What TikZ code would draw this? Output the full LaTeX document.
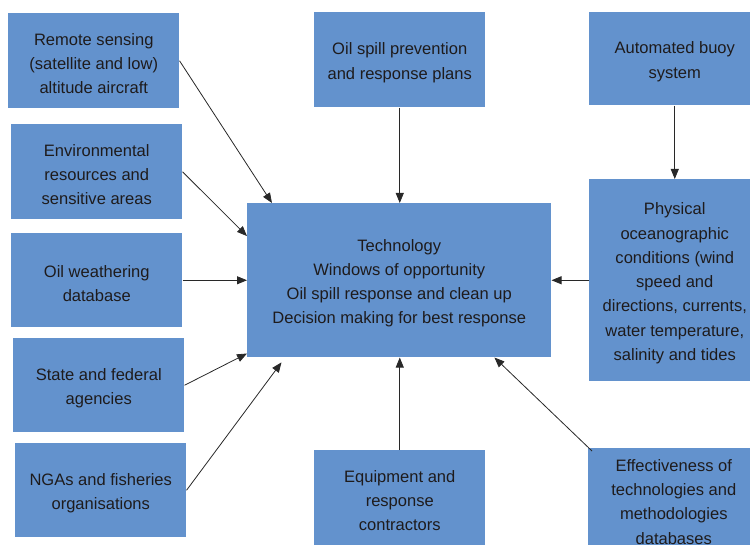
\documentclass[tikz,border=0pt]{standalone}
\usepackage{fontspec}
\setmainfont{Liberation Sans}
\usetikzlibrary{arrows.meta,calc}
\definecolor{boxblue}{RGB}{99,146,205}
\definecolor{txt}{RGB}{30,27,28}
\definecolor{arr}{RGB}{40,40,40}
\newcommand{\topstrut}{\rule{0pt}{13.5pt}}
\tikzset{
  box/.style={fill=boxblue, draw=none, align=center, text=txt,
    font=\fontsize{12.4}{18.2}\selectfont, inner sep=0pt, anchor=north west},
  sz/.style 2 args={minimum width=#1*0.75pt, minimum height=#2*0.75pt},
  arrow/.style={draw=arr, line width=0.6pt, -{Triangle[length=7.5pt,width=6pt]}}
}
\begin{document}
\begin{tikzpicture}[x=0.75pt,y=-0.75pt]
\useasboundingbox (0,0) rectangle (750,545);
\node[box, sz={171}{95}] (remote) at (8,13) {\topstrut Remote sensing\\(satellite and low)\\altitude aircraft};
\node[box, sz={171}{95}] (env) at (11,124) {\topstrut Environmental\\resources and\\sensitive areas};
\node[box, sz={171}{94}] (oilw) at (11,233) {\topstrut Oil weathering\\database};
\node[box, sz={171}{94}] (state) at (13,338) {\topstrut State and federal\\agencies};
\node[box, sz={171}{94}] (nga) at (15,443) {\topstrut NGAs and fisheries\\organisations};
\node[box, sz={171}{95}] (prev) at (314,12) {\topstrut Oil spill prevention\\and response plans};
\node[box, sz={171}{93}] (buoy) at (589,12) {\topstrut Automated buoy\\system};
\node[box, sz={171}{202}] (phys) at (589,179) {\topstrut Physical\\oceanographic\\conditions (wind\\speed and\\directions, currents,\\water temperature,\\salinity and tides};
\node[box, sz={304}{154}] (ctr) at (247,203) {\topstrut Technology\\Windows of opportunity\\Oil spill response and clean up\\Decision making for best response};
\node[box, sz={171}{95}] (equip) at (314,450) {\topstrut Equipment and\\response\\contractors};
\node[box, sz={171}{101}] (eff) at (588,448) {\topstrut Effectiveness of\\technologies and\\methodologies\\databases};

\draw[arrow] (remote.east) -- ($(ctr.north west)!0.082!(ctr.north east)$);
\draw[arrow] (env.east) -- ($(ctr.north west)!0.214!(ctr.south west)$);
\draw[arrow] (oilw.east) -- (oilw.east -| ctr.west);
\draw[arrow] (state.east) -- ($(ctr.north west)!0.974!(ctr.south west)$);
\draw[arrow, shorten >=4.5pt] (nga.east) -- ($(ctr.south west)!0.125!(ctr.south east)$);
\draw[arrow] (prev.south) -- (prev.south |- ctr.north);
\draw[arrow] (buoy.south) -- (phys.north);
\draw[arrow] (phys.west) -- (phys.west -| ctr.east);
\draw[arrow] (equip.north) -- (equip.north |- ctr.south);
\draw[arrow] ($(eff.north west)+(4,3)$) -- ($(ctr.south west)!0.8125!(ctr.south east)$);
\end{tikzpicture}
\end{document}
